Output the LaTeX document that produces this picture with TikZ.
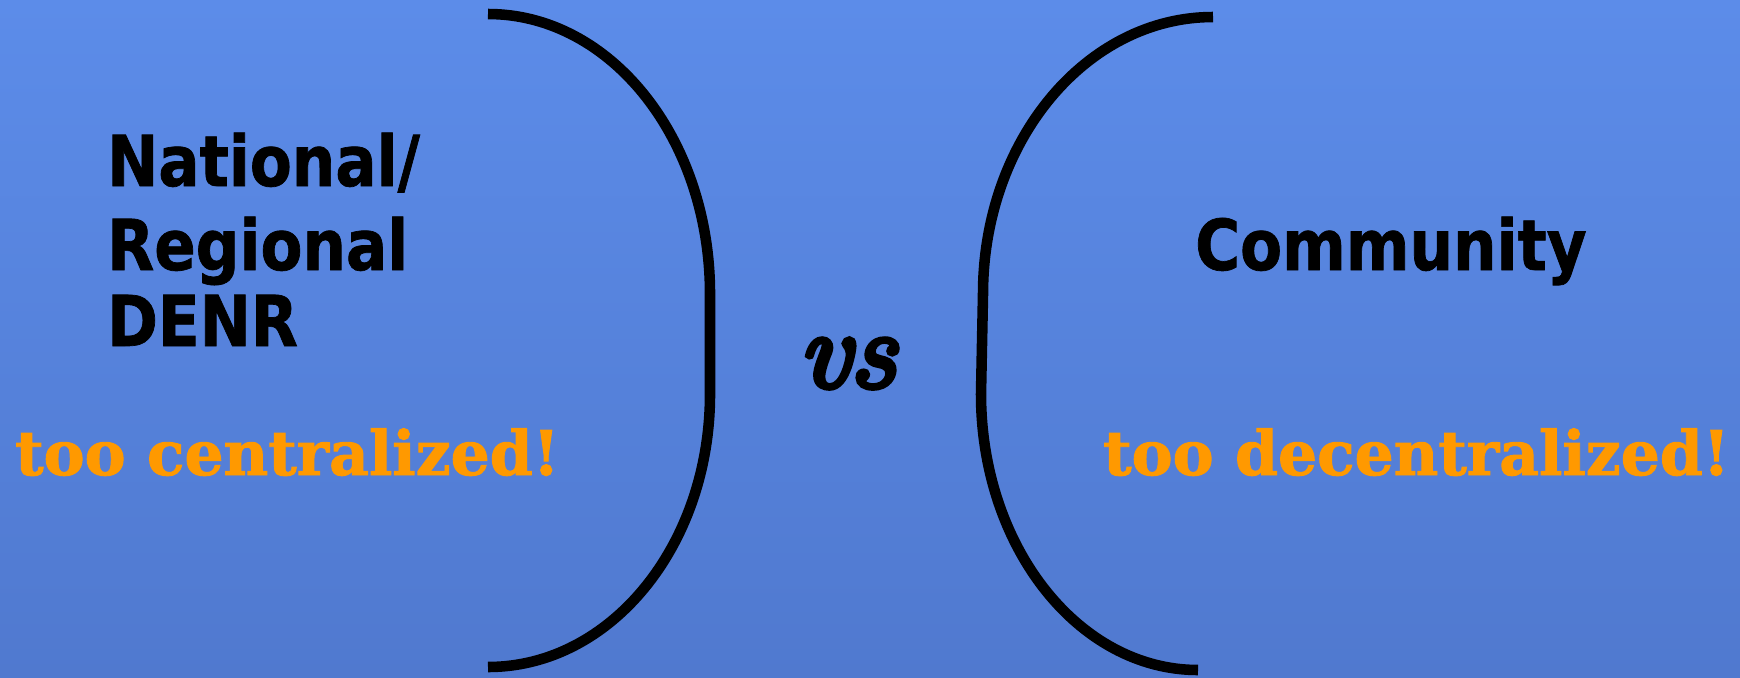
\RequirePackage{fix-cm}
\documentclass[tikz,border=0pt]{standalone}
\usepackage{fontspec}
\usepackage{amsmath}
\usepackage{xcolor}
\usetikzlibrary{calc}

\newfontfamily\headfont[FakeStretch=0.87, FakeBold=1]{DejaVu Sans}
\newfontfamily\notefont[FakeBold=1.5]{DejaVu Serif}
\newfontfamily\vsfont[FakeBold=5]{Latin Modern Roman}

\definecolor{bgtop}{HTML}{5C8CE9}
\definecolor{bgbot}{HTML}{5079CF}
\definecolor{warnorange}{HTML}{FF9900}

\begin{document}
\begin{tikzpicture}[
    x=0.02cm, y=-0.02cm,
    side/.style={anchor=base west, font=\headfont\bfseries\fontsize{40}{46}\selectfont},
    verdict/.style={anchor=base west, text=warnorange, font=\notefont\bfseries\fontsize{35}{40}\selectfont},
    brace/.style={line width=6pt}
]

% background
\shade[top color=bgtop, bottom color=bgbot] (0,0) rectangle (1740,677);
\useasboundingbox (0,0) rectangle (1740,677);

% left bracket
\draw[brace] (488,14) .. controls (611,14) and (710,139) .. (710,294)
    -- (710,394) .. controls (710,545) and (611,667) .. (488,667);

% right bracket
\draw[brace] (1213,17) .. controls (1086,17) and (983,141) .. (983,294)
    -- (981,394) .. controls (981,546) and (1078,670) .. (1198,670);

% left side
\node[side] (natl) at (101,186) {National/};
\node[side] (regl) at (101,270) {Regional};
\node[side] (denr) at (101,346) {DENR};
\node[verdict] (cent) at (9,475) {too centralized!};

% middle
\node[anchor=base west, inner sep=0pt] (vs) at (798,387)
    {\scalebox{1.05}[1]{\vsfont\itshape\fontsize{62}{70}\selectfont vs}};

% right side
\node[side] (comm) at (1189,270) {Community};
\node[verdict] (decent) at (1097,475) {too decentralized!};

\end{tikzpicture}
\end{document}
